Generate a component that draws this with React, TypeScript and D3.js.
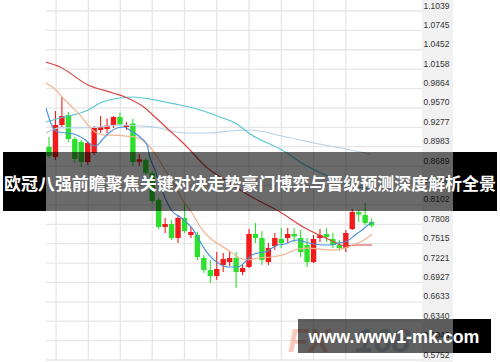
import React from 'react';
import * as d3 from 'd3';

// ---- candle data (index 0..50) ----
const opens = [0.8979, 0.8827, 0.9312, 0.9463, 0.9100, 0.9054, 0.8751, 0.8888, 0.9236, 0.9251,
  0.9312, 0.9433, 0.9282, 0.9335, 0.8756, 0.8782, 0.8585, 0.8176, 0.7767, 0.7812,
  0.7600, 0.7903, 0.7645, 0.7645, 0.7297, 0.7115, 0.7024, 0.7191, 0.7236, 0.7297,
  0.7085, 0.7161, 0.7661, 0.7600, 0.7236, 0.7479, 0.7585, 0.7600, 0.7661, 0.7600,
  0.7494, 0.7236, 0.7600, 0.7661, 0.7585, 0.7494, 0.7448, 0.7736, 0.7994, 0.7949, 0.7842];
const highs = [0.9130, 0.9524, 0.9736, 0.9509, 0.9130, 0.9085, 0.9070, 0.9297, 0.9448, 0.9410,
  0.9448, 0.9501, 0.9357, 0.9403, 0.8873, 0.8812, 0.8615, 0.8206, 0.7903, 0.7873,
  0.7949, 0.8145, 0.7767, 0.7691, 0.7342, 0.7267, 0.7388, 0.7373, 0.7388, 0.7388,
  0.7191, 0.7736, 0.7827, 0.7706, 0.7524, 0.7676, 0.7751, 0.7751, 0.7751, 0.7721,
  0.7600, 0.7645, 0.7736, 0.7751, 0.7676, 0.7570, 0.7721, 0.8039, 0.8024, 0.8130, 0.7895];
const lows = [0.8812, 0.8782, 0.9282, 0.9054, 0.8736, 0.8676, 0.8706, 0.8858, 0.9191, 0.9191,
  0.9267, 0.9297, 0.9236, 0.8691, 0.8691, 0.8554, 0.8130, 0.7729, 0.7676, 0.7570,
  0.7524, 0.7676, 0.7600, 0.7267, 0.7070, 0.6918, 0.6964, 0.7085, 0.7176, 0.6843,
  0.7039, 0.7145, 0.7524, 0.7191, 0.7191, 0.7418, 0.7448, 0.7524, 0.7539, 0.7312,
  0.7161, 0.7221, 0.7539, 0.7539, 0.7448, 0.7403, 0.7388, 0.7721, 0.7842, 0.7797, 0.7759];
const closes = [0.8842, 0.9312, 0.9448, 0.9100, 0.8797, 0.8751, 0.9039, 0.9267, 0.9282, 0.9304,
  0.9433, 0.9320, 0.9312, 0.8751, 0.8792, 0.8585, 0.8160, 0.7767, 0.7812, 0.7600,
  0.7903, 0.7706, 0.7691, 0.7312, 0.7115, 0.7024, 0.7130, 0.7282, 0.7297, 0.7085,
  0.7145, 0.7661, 0.7600, 0.7267, 0.7448, 0.7600, 0.7524, 0.7661, 0.7623, 0.7388,
  0.7236, 0.7585, 0.7645, 0.7615, 0.7494, 0.7448, 0.7676, 0.7994, 0.7956, 0.7827, 0.7789];

// ---- moving-average lines, [candle index, price] ----
const maBlue: [number, number][] = [[-0.47, 0.9570], [0.47, 0.9297], [1.4, 0.9206], [3.88, 0.9176], [5.43, 0.9100],
  [6.67, 0.9009], [7.29, 0.8994], [8.22, 0.9085], [9.46, 0.9206], [10.54, 0.9267], [11.63, 0.9282],
  [12.71, 0.9221], [14.11, 0.9130], [15.19, 0.9009], [15.66, 0.8812], [16.43, 0.8630], [17.21, 0.8403],
  [18.14, 0.8176], [19.07, 0.8009], [20.31, 0.7918], [21.24, 0.7842], [22.17, 0.7751], [22.95, 0.7630],
  [23.72, 0.7494], [24.81, 0.7342], [26.2, 0.7221], [27.75, 0.7161], [29.3, 0.7161], [30.39, 0.7236],
  [31.47, 0.7342], [32.4, 0.7373], [33.49, 0.7388], [34.57, 0.7448], [35.5, 0.7494], [36.59, 0.7509],
  [37.67, 0.7554], [38.6, 0.7570], [39.69, 0.7539], [41.09, 0.7509], [42.33, 0.7494], [43.88, 0.7494],
  [44.81, 0.7524], [45.89, 0.7539], [47.44, 0.7645], [48.53, 0.7721], [49.46, 0.7797], [50.23, 0.7842]];
const maTan: [number, number][] = [[-0.47, 0.9948], [0.93, 0.9857], [2.02, 0.9736], [3.26, 0.9615], [4.81, 0.9463],
  [6.05, 0.9312], [7.13, 0.9206], [8.68, 0.9160], [10.23, 0.9160], [11.78, 0.9145], [13.33, 0.9130],
  [14.88, 0.9054], [15.66, 0.8979], [16.9, 0.8812], [17.98, 0.8630], [19.07, 0.8479], [20.78, 0.8160],
  [22.17, 0.7979], [23.57, 0.7751], [25.12, 0.7585], [26.51, 0.7494], [27.75, 0.7418], [29.61, 0.7297],
  [30.85, 0.7267], [32.4, 0.7297], [34.57, 0.7312], [36.59, 0.7357], [38.6, 0.7433], [40.16, 0.7448],
  [42.02, 0.7433], [43.57, 0.7418], [45.12, 0.7433], [46.36, 0.7464], [47.44, 0.7509], [48.53, 0.7554],
  [50.08, 0.7661]];
const maPale: [number, number][] = [[-0.47, 0.9191], [1.71, 0.9267], [4.03, 0.9267], [7.91, 0.9282], [11.0, 0.9312],
  [14.11, 0.9297], [17.21, 0.9267], [19.53, 0.9206], [21.86, 0.9191], [24.96, 0.9191], [28.06, 0.9221],
  [31.16, 0.9236], [36.12, 0.9145], [41.09, 0.9039], [46.05, 0.8948], [49.77, 0.8873]];
const maCyan: [number, number][] = [[-0.47, 0.9357], [1.71, 0.9418], [6.05, 0.9539], [7.91, 0.9645], [11.0, 0.9721],
  [13.02, 0.9736], [15.66, 0.9706], [17.98, 0.9660], [20.31, 0.9615], [23.41, 0.9539], [26.51, 0.9433],
  [28.84, 0.9342], [31.16, 0.9176], [36.12, 0.8933], [39.69, 0.8706], [43.57, 0.8524], [45.89, 0.8433],
  [50.08, 0.8327]];
const maRed: [number, number][] = [[-0.47, 1.0266], [1.71, 1.0191], [6.05, 0.9918], [9.92, 0.9797], [11.78, 0.9736],
  [14.88, 0.9570], [16.43, 0.9433], [18.76, 0.9221], [20.31, 0.9085], [21.86, 0.8933], [24.19, 0.8691],
  [27.29, 0.8479], [31.16, 0.8236], [35.81, 0.7994], [39.69, 0.7751], [43.57, 0.7570], [45.89, 0.7479],
  [47.44, 0.7494], [50.08, 0.7494]];

const tickLabels = ['1.1039', '1.0745', '1.0452', '1.0158', '0.9864', '0.9570', '0.9277', '0.8983', '0.8689',
  '0.8396', '0.8102', '0.7808', '0.7515', '0.7221', '0.6927', '0.6633', '0.6340', '0.6046', '0.5752'];
const gridIdx = [1.1, 6.1, 11.05, 16, 21, 26, 31, 36, 41, 46];

const title = '欧冠八强前瞻聚焦关键对决走势豪门博弈与晋级预测深度解析全景';
const watermark = 'www.www1-mk.com';

const UP = '#f21a1a';
const DOWN = '#2ee02e';

export default function App() {
  const W = 500, H = 362;
  const plotL = 46, plotR = 422, plotB = 360;
  const x = d3.scaleLinear().domain([0, 50]).range([49, 371.6]);
  const y = d3.scaleLinear().domain([0.5752, 1.1039]).range([360, 11]);
  const line = d3.line<[number, number]>().x(d => x(d[0])).y(d => y(d[1])).curve(d3.curveMonotoneX);
  const bw = 5.4;

  const mas: { data: [number, number][]; color: string }[] = [
    { data: maPale, color: '#b6d2e6' },
    { data: maCyan, color: '#58c8d2' },
    { data: maRed, color: '#d84444' },
    { data: maTan, color: '#f2b48e' },
    { data: maBlue, color: '#4a92de' },
  ];

  return (
    <svg width={W} height={H} style={{ position: 'absolute', left: 0, top: 0, background: '#fff' }}>
      <defs>
        <clipPath id="plotClip">
          <rect x={plotL} y={0} width={plotR - plotL} height={plotB} />
        </clipPath>
      </defs>
      <rect x={0} y={0} width={W} height={H} fill="#fff" />
      {/* axis panel */}
      <rect x={plotR} y={0} width={31} height={H} fill="#f1f1f1" />
      {/* grid */}
      {tickLabels.map(t => (
        <line key={'h' + t} x1={plotL} x2={plotR} y1={y(+t)} y2={y(+t)} stroke="#e6e6e6" strokeWidth={1.3} />
      ))}
      {gridIdx.map(g => (
        <line key={'v' + g} x1={x(g)} x2={x(g)} y1={0} y2={plotB} stroke="#e6e6e6" strokeWidth={1.3} />
      ))}
      {tickLabels.map(t => (
        <text key={'t' + t} x={423.5} y={y(+t) - 2.5} fontSize={8.5} fill="#333"
          fontFamily="'Liberation Sans', Arial, sans-serif">{t}</text>
      ))}
      {/* candles */}
      <g>
        {opens.map((o, i) => {
          const c = closes[i];
          const col = c >= o ? UP : DOWN;
          const top = y(Math.max(o, c));
          const bot = y(Math.min(o, c));
          return (
            <g key={'c' + i}>
              <line x1={x(i)} x2={x(i)} y1={y(highs[i])} y2={y(lows[i])} stroke={col} strokeWidth={1.1} />
              <rect x={x(i) - bw / 2} y={top} width={bw} height={Math.max(1.5, bot - top)} fill={col} />
            </g>
          );
        })}
      </g>
      {/* moving averages */}
      <g clipPath="url(#plotClip)">
        {mas.map((m, k) => (
          <path key={'m' + k} d={line(m.data) || ''} fill="none" stroke={m.color} strokeWidth={1.2} />
        ))}
      </g>
      {/* title banner */}
      <rect x={3} y={152} width={43} height={59} fill="#000" />
      <rect x={46} y={152} width={407} height={59} fill="rgba(0,0,0,0.58)" />
      <rect x={453} y={152} width={44} height={59} fill="#000" />
      <text x={250} y={190} textAnchor="middle" fontSize={17} fontWeight="bold" fill="#fff"
        fontFamily="'Noto Sans CJK SC', sans-serif" textLength={492} lengthAdjust="spacingAndGlyphs">{title}</text>
      {/* faint logo */}
      <g opacity={0.55} fontFamily="'Liberation Sans', Arial, sans-serif" fontWeight="900" fontStyle="italic" fontSize={33}>
        <text x={288} y={352} fill="#f2a088">FX</text>
        <text x={355} y={352} fill="#9fb0c8">168</text>
      </g>
      {/* watermark */}
      <rect x={298} y={319} width={155} height={34} fill="rgba(0,0,0,0.62)" />
      <rect x={453} y={319} width={38} height={34} fill="#000" />
      <text x={308.5} y={343} fontSize={18.5} fontWeight="bold" fill="#fff"
        fontFamily="'Liberation Sans', Arial, sans-serif" textLength={171} lengthAdjust="spacingAndGlyphs">{watermark}</text>
    </svg>
  );
}
